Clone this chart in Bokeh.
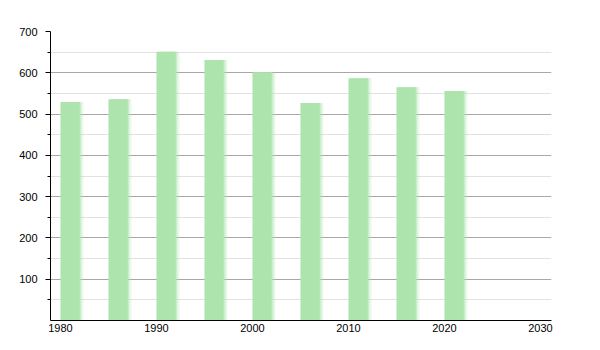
from bokeh.plotting import figure
from bokeh.models import Range1d, FixedTicker
from bokeh.embed import file_html
from bokeh.resources import INLINE

years = [1981, 1986, 1991, 1996, 2001, 2006, 2011, 2016, 2021]
population = [529, 536, 651, 631, 601, 527, 587, 565, 556]
x_ticks = [1980, 1990, 2000, 2010, 2020, 2030]
y_ticks = [100, 200, 300, 400, 500, 600, 700]
y_minor = [50, 150, 250, 350, 450, 550, 650]

p = figure(width=600, height=350, output_backend="svg", toolbar_location=None,
           x_range=Range1d(1978.96, 2031.15), y_range=Range1d(0, 700),
           min_border_left=50, min_border_right=49, min_border_top=31, min_border_bottom=30)
p.outline_line_color = None
p.background_fill_color = "white"

bar_color = "#ade3ad"
# soft shadow on the right edge
for off, a in [(0.45, 0.12), (0.3, 0.25), (0.15, 0.45)]:
    p.vbar(x=[y + off for y in years], top=population, bottom=0, width=2.0,
           fill_color=bar_color, fill_alpha=a, line_color=None)
p.vbar(x=years, top=population, bottom=0, width=2.0, fill_color=bar_color, line_color=None)

font = "Liberation Sans"
p.xaxis.ticker = FixedTicker(ticks=x_ticks)
p.xgrid.grid_line_color = None
p.xaxis.major_tick_out = 0
p.xaxis.major_tick_in = 0
p.xaxis.minor_tick_out = 0
p.xaxis.minor_tick_in = 0
p.xaxis.major_label_standoff = 3

p.yaxis.ticker = FixedTicker(ticks=y_ticks, minor_ticks=y_minor)
p.yaxis.major_tick_out = 5
p.yaxis.major_tick_in = 0
p.yaxis.minor_tick_out = 3
p.yaxis.minor_tick_in = 0
p.yaxis.major_label_standoff = 8
p.ygrid.grid_line_color = "#a8a8a8"
p.ygrid.minor_grid_line_color = "#e2e2e2"

for ax in (p.xaxis[0], p.yaxis[0]):
    ax.axis_line_color = "black"
    ax.major_tick_line_color = "black"
    ax.minor_tick_line_color = "black"
    ax.major_label_text_font = font
    ax.major_label_text_font_size = "11px"
    ax.major_label_text_color = "black"

open("out.html", "w").write(file_html(p, INLINE))
